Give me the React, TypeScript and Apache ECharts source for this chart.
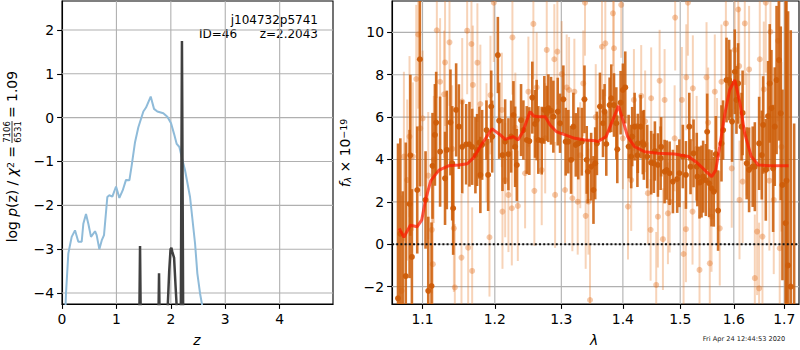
import React, { useEffect, useRef } from "react";
import * as echarts from "echarts";

// ---------- Left panel: log p(z) ----------
const zTicks = [0, 1, 2, 3, 4];
const logpTicks = [-4, -3, -2, -1, 0, 1, 2];
const zBlue = [0.055, 0.074, 0.116, 0.178, 0.239, 0.3, 0.362, 0.392, 0.441, 0.484, 0.533, 0.607, 0.637, 0.686, 0.73, 0.772, 0.833, 0.87, 0.925, 0.993, 1.054, 1.115, 1.176, 1.238, 1.281, 1.342, 1.403, 1.495, 1.544, 1.63, 1.691, 1.752, 1.862, 1.936, 2.004, 2.059, 2.108, 2.157, 2.2, 2.261, 2.353, 2.445, 2.487, 2.537, 2.58];
const logpBlue = [-4.6, -4.0, -3.1, -2.72, -2.57, -2.83, -2.83, -2.42, -2.2, -2.42, -2.72, -2.59, -2.68, -3.0, -2.8, -2.68, -1.81, -1.77, -1.8, -1.57, -1.83, -1.66, -1.42, -1.43, -1.09, -0.56, -0.22, 0.14, 0.23, 0.48, 0.2, 0.14, 0.1, 0.02, -0.13, -0.37, -0.6, -0.67, -0.9, -1.2, -1.81, -2.87, -3.55, -4.01, -4.31];
const zDark = [0, 1.4, 1.418, 1.434, 1.45, 1.47, 1.75, 1.768, 1.783, 1.798, 1.82, 1.9, 1.925, 1.945, 1.97, 1.995, 2.01, 2.025, 2.06, 2.085, 2.105, 2.125, 2.16, 2.178, 2.2043, 2.232, 2.25, 4.98];
const logpDark = [-8, -8, -5, -2.93, -5, -8, -8, -5, -3.55, -5, -8, -8, -5.5, -4.25, -3.5, -3.0, -2.97, -3.05, -3.2, -3.8, -4.25, -5.5, -8, -6, 1.75, -6, -8, -8];

// ---------- Right panel: spectrum ----------
const lamTicks = [1.1, 1.2, 1.3, 1.4, 1.5, 1.6, 1.7];
const fluxTicks = [-2, 0, 2, 4, 6, 8, 10];
// [lambda, flux, error]
const darkPoints: [number, number, number][] = [
  [1.068, -2.55, 7.3], [1.071, 0.5, 4.5], [1.074, -3.5, 6.0], [1.078, -1.5, 6.3], [1.083, 1.9, 3.5],
  [1.084, 4.2, 3.8], [1.086, -0.6, 3.2],
  [1.093, 2.56, 3.0], [1.0965, 8.73, 6.0], [1.104, 2.09, 2.3], [1.1076, -2.2, 3.5], [1.112, -1.97, 3.0],
  [1.1133, 3.7, 2.5], [1.1165, 5.16, 2.4], [1.1182, 5.74, 2.4], [1.1235, 4.37, 2.6], [1.1302, 3.11, 2.2],
  [1.1326, 4.45, 2.8], [1.1376, 5.75, 2.5], [1.14, 3.82, 2.7], [1.1413, 1.7, 2.2],
  [1.1454, 6.34, 2.2], [1.1492, 5.55, 2.0], [1.1538, 4.6, 2.2], [1.1593, 4.72, 1.9], [1.1639, 4.72, 2.0], [1.1677, 4.6, 1.8],
  [1.1723, 4.2, 1.8], [1.1747, 4.45, 1.7], [1.1779, 4.8, 1.7], [1.1793, 3.27, 1.8], [1.1818, 4.69, 1.65],
  [1.188, 5.39, 1.4], [1.1904, 3.27, 1.7], [1.1948, 6.5, 1.7], [1.1962, 5.08, 1.7],
  [1.2044, 8.93, 1.8], [1.2063, 5.83, 1.8], [1.2111, 4.21, 1.7], [1.215, 4.84, 2.0], [1.2198, 4.25, 1.7], [1.2238, 5.08, 1.7],
  [1.2272, 6.1, 1.6], [1.2297, 4.6, 1.9], [1.2322, 3.74, 1.7], [1.2385, 5.86, 1.7], [1.242, 5.39, 1.4], [1.247, 4.92, 1.6], [1.2509, 4.87, 1.6],
  [1.2554, 6.92, 1.7], [1.2595, 5.68, 1.6], [1.262, 5.86, 1.9], [1.2645, 4.92, 1.6], [1.2697, 4.89, 1.6], [1.2737, 6.34, 1.6],
  [1.2774, 6.18, 1.3], [1.2799, 6.42, 1.6], [1.284, 6.3, 1.6], [1.2876, 6.02, 1.7], [1.2944, 6.26, 1.6], [1.298, 5.71, 1.4],
  [1.3032, 6.84, 1.6], [1.3069, 4.84, 1.6], [1.311, 4.84, 1.5],
  [1.3153, 3.98, 1.6], [1.319, 5.55, 1.6], [1.3228, 4.69, 1.5], [1.3268, 4.76, 1.7], [1.3325, 4.84, 1.6], [1.3367, 6.84, 1.6],
  [1.3404, 3.98, 1.6], [1.3422, 3.43, 1.5], [1.3475, 3.66, 1.6], [1.3513, 2.56, 1.6], [1.3541, 3.82, 1.7], [1.3569, 4.76, 1.5], [1.3619, 6.5, 1.6],
  [1.3669, 5.71, 1.6], [1.3695, 6.26, 1.3], [1.3723, 4.73, 1.5], [1.3778, 6.57, 1.3], [1.3806, 6.89, 1.6], [1.3851, 6.57, 1.5],
  [1.389, 5.71, 1.7], [1.3906, 4.48, 1.6],
  [1.3962, 6.68, 1.5], [1.4, 7.28, 1.25], [1.404, 7.4, 1.7], [1.4097, 4.61, 1.5], [1.4141, 4.14, 1.5], [1.4158, 5.08, 1.4], [1.4199, 5.55, 1.6],
  [1.4247, 4.2, 1.5], [1.4254, 4.76, 1.4], [1.4302, 5.55, 1.5], [1.434, 4.8, 1.5], [1.4358, 4.69, 1.65], [1.4416, 4.14, 1.5], [1.4485, 3.85, 1.5],
  [1.4532, 3.82, 1.4], [1.455, 4.4, 1.4], [1.4603, 3.74, 1.5], [1.4651, 4.06, 1.5], [1.466, 4.6, 1.4], [1.4721, 3.43, 1.5],
  [1.4758, 3.5, 1.4], [1.481, 3.35, 1.5],
  [1.4869, 2.96, 1.5], [1.4946, 3.08, 1.6], [1.4985, 3.35, 1.6], [1.5048, 4.14, 1.5], [1.5104, 3.27, 1.6], [1.5165, 5.55, 1.6],
  [1.5188, 3.66, 1.3], [1.5243, 4.29, 1.6], [1.5302, 3.66, 1.6], [1.5313, 3.19, 1.4], [1.5353, 2.91, 1.7], [1.539, 2.96, 1.7],
  [1.542, 3.19, 1.7], [1.547, 3.03, 1.7],
  [1.5495, 5.31, 1.8], [1.5532, 2.88, 1.6], [1.5576, 2.64, 1.8], [1.5619, 2.48, 1.65], [1.5657, 4.25, 1.8], [1.57, 1.59, 1.9], [1.5764, 4.76, 1.8],
  [1.5795, 5.39, 1.4], [1.586, 7.75, 2.0], [1.591, 7.75, 1.9], [1.5935, 7.59, 1.6], [1.5966, 5.79, 1.9], [1.6019, 8.14, 2.0],
  [1.6051, 6.81, 1.6], [1.6083, 7.59, 1.9], [1.615, 5.55, 1.6],
  [1.617, 6.2, 2.0], [1.625, 3.82, 1.7], [1.6297, 3.51, 2.0], [1.6368, 3.66, 1.9], [1.641, 3.66, 2.1], [1.6495, 4.76, 2.2],
  [1.6548, 4.21, 2.1], [1.6575, 5.63, 2.3],
  [1.6628, 3.51, 2.4], [1.6674, 6.05, 2.6], [1.6707, 7.59, 2.8], [1.6741, 6.42, 2.75], [1.6775, 3.58, 3.0], [1.6808, 5.55, 2.8],
  [1.6845, 7.75, 3.5], [1.6895, 8.69, 3.8], [1.693, 6.18, 4.1], [1.6965, 2.8, 4.5], [1.703, 1.0, 12], [1.7047, 3.0, 14],
  [1.708, -1.0, 12], [1.7135, -2.0, 12.1], [1.7205, -4.3, 10],
];
const lightPoints: [number, number, number][] = [
  [1.0726, -2.2, 4.5], [1.0756, 4.14, 4.0], [1.0799, 3.03, 3.8], [1.0829, 5.08, 3.8], [1.0873, 4.14, 3.5],
  [1.0917, 7.8, 3.5], [1.0943, 9.9, 3.5], [1.097, 5.47, 3.2], [1.1001, 5.94, 3.2], [1.1076, 3.24, 3.0],
  [1.1124, 0.68, 3.0], [1.1137, -0.94, 3.0], [1.115, 4.0, 3.0], [1.1191, 10.1, 3.2], [1.1235, 7.67, 3.0],
  [1.1289, 7.08, 3.0], [1.1302, 8.58, 3.0], [1.1363, 9.53, 3.0], [1.14, 4.5, 3.0], [1.1423, 0.75, 3.0],
  [1.1436, -2.04, 3.0], [1.1528, -0.63, 3.0], [1.1538, 6.73, 3.0], [1.1607, 10.08, 3.0], [1.1621, -0.16, 3.0],
  [1.1667, 9.45, 3.0], [1.1677, -1.26, 3.0], [1.1687, 7.52, 2.8], [1.1751, 8.57, 2.8], [1.1793, 6.62, 2.8],
  [1.188, 4.8, 2.8], [1.1923, 0.33, 2.8], [1.1937, 7.04, 2.8], [1.1985, 11.4, 2.8], [1.2102, 6.34, 2.7],
  [1.2111, 1.54, 2.7], [1.215, 3.03, 2.7], [1.2198, 2.33, 2.7], [1.2248, 1.7, 2.7], [1.2257, 9.76, 2.7],
  [1.23, 5.5, 2.6], [1.2337, 1.81, 2.6], [1.2445, 3.35, 2.6], [1.2495, 7.2, 2.6], [1.257, 10.4, 2.6],
  [1.2585, 2.52, 2.6], [1.262, 7.4, 2.6], [1.2697, 3.5, 2.6], [1.275, 5.0, 2.6], [1.2774, 9.17, 2.6],
  [1.2891, 8.73, 2.6], [1.2903, 2.33, 2.5], [1.2938, 9.09, 2.5], [1.3006, 8.03, 2.5], [1.3058, 2.56, 2.5],
  [1.3084, 7.4, 2.5], [1.3122, 7.28, 2.5], [1.3174, 2.17, 2.5], [1.3206, 7.2, 2.5], [1.3259, 2.01, 2.5],
  [1.33, 4.2, 2.5], [1.3348, 7.59, 2.5], [1.3376, 11.4, 2.5], [1.3387, 1.34, 2.5], [1.3431, 2.01, 2.5],
  [1.3457, -2.63, 2.6], [1.355, 6.0, 2.5], [1.3652, 9.32, 2.5], [1.3707, 9.48, 2.5], [1.3834, 10.9, 2.5],
  [1.3851, 9.25, 2.5], [1.3972, 11.3, 2.5], [1.4, 5.0, 2.4], [1.4086, 1.78, 2.5], [1.4141, 3.03, 2.4],
  [1.4187, 6.81, 2.4], [1.4312, 7.0, 2.4], [1.438, 5.8, 2.4], [1.4428, 2.41, 2.4], [1.4475, 0.68, 2.4],
  [1.4485, 6.89, 2.4], [1.4573, -1.92, 2.5], [1.4603, 1.3, 2.4], [1.4633, 7.72, 2.4], [1.4691, 0.24, 2.4],
  [1.4721, 6.81, 2.4], [1.478, 1.46, 2.4], [1.481, 2.01, 2.4], [1.49, 5.0, 2.5], [1.4909, 10.7, 2.5],
  [1.503, 6.81, 2.5], [1.5061, -0.46, 2.5], [1.5104, 0.71, 2.5], [1.511, 7.88, 2.5], [1.514, 11.4, 2.5],
  [1.5224, 1.54, 2.5], [1.523, 7.36, 2.5], [1.53, 4.5, 2.5], [1.5353, -1.21, 2.6], [1.5483, 7.88, 2.6],
  [1.5513, 5.74, 2.6], [1.5544, -0.9, 2.6], [1.5576, 1.3, 2.6], [1.5638, 7.2, 2.7], [1.568, 4.2, 2.7],
  [1.5732, 0.75, 2.7], [1.5764, 7.67, 2.7], [1.5848, 10.42, 2.8], [1.596, 3.58, 2.8], [1.6019, 9.17, 2.8],
  [1.6085, 11.08, 2.8], [1.6104, 8.41, 2.8], [1.611, 2.09, 2.8], [1.617, 2.96, 2.9], [1.6213, 10.42, 2.9],
  [1.625, 5.2, 2.9], [1.6297, 8.25, 3.0], [1.641, -1.6, 3.0], [1.6455, 0.6, 3.0], [1.6495, -2.08, 3.1],
  [1.6508, 8.73, 3.1], [1.6561, 0.36, 3.2], [1.6588, 7.31, 3.2], [1.6628, 11.4, 3.3], [1.67, 3.0, 3.3],
  [1.6721, 10.03, 3.4], [1.6788, 2.09, 3.5], [1.6875, 9.6, 3.8], [1.6909, -0.19, 3.8], [1.6944, 4.6, 4.0],
];
const modelLam = [1.0696, 1.0756, 1.084, 1.093, 1.099, 1.104, 1.111, 1.122, 1.135, 1.149, 1.161, 1.17, 1.182, 1.196, 1.2, 1.208, 1.215, 1.227, 1.234, 1.241, 1.252, 1.2575, 1.2645, 1.275, 1.2825, 1.293, 1.306, 1.321, 1.338, 1.354, 1.358, 1.372, 1.383, 1.3927, 1.4, 1.408, 1.42, 1.437, 1.46, 1.49, 1.515, 1.532, 1.548, 1.558, 1.5657, 1.573, 1.583, 1.592, 1.602, 1.612, 1.621, 1.634, 1.648, 1.67, 1.709];
const modelFlux = [0.75, 0.33, 0.9, 0.83, 1.15, 2.1, 3.0, 3.5, 3.7, 3.74, 3.8, 4.1, 4.76, 5.45, 5.35, 5.16, 4.95, 5.08, 4.92, 5.3, 6.26, 6.05, 6.02, 6.02, 5.63, 5.3, 5.16, 5.0, 4.92, 4.89, 4.84, 5.08, 5.86, 6.53, 5.86, 5.08, 4.6, 4.37, 4.29, 4.26, 4.14, 3.82, 3.43, 3.19, 3.5, 4.6, 6.18, 7.28, 7.75, 6.65, 5.24, 4.14, 3.74, 3.71, 3.71];

const FONT = "DejaVu Sans";
const Z_MAX = 4.98;
const LOGP_MIN = -4.25;
const LOGP_MAX = 2.66;
const LAM_MIN = 1.0603;
const LAM_MAX = 1.7306;
const FLUX_MIN = -2.82;
const FLUX_MAX = 11.48;
const GRID_COLOR = "#b0b0b0";

const minus = (v: number) => (v < 0 ? "\u2212" + Math.abs(v) : String(v));

function axisCommon(ticks: number[], formatter: (v: number) => string) {
  return {
    axisLine: { show: true, onZero: false, lineStyle: { color: "#000", width: 1.1 } },
    axisTick: { show: true, length: 4.9, inside: false, customValues: ticks, lineStyle: { color: "#000", width: 1.1 } },
    axisLabel: { customValues: ticks, color: "#000", fontSize: 13.9, fontFamily: FONT, margin: 8, formatter },
    splitLine: { show: false },
  };
}

// grid lines: one line series per grid line, through the axes' own scales
function gridLines(idx: number, xs: number[], ys: number[], x0: number, x1: number, y0: number, y1: number) {
  const segs: number[][][] = [
    ...xs.map((v) => [[v, y0], [v, y1]]),
    ...ys.map((v) => [[x0, v], [x1, v]]),
  ];
  return segs.map((seg) => ({
    type: "line", xAxisIndex: idx, yAxisIndex: idx, data: seg, showSymbol: false, symbol: "none",
    z: 2, lineStyle: { color: GRID_COLOR, width: 1.1 }, emphasis: { disabled: true },
  }));
}

function errRender(barColor: string, markColor: string, lw: number, r: number) {
  return (params: any, api: any) => {
    const x = api.value(0);
    const y = api.value(1);
    const e = api.value(2);
    const top = api.coord([x, y + e]);
    const bot = api.coord([x, y - e]);
    const c = api.coord([x, y]);
    return {
      type: "group",
      children: [
        { type: "line", shape: { x1: top[0], y1: top[1], x2: bot[0], y2: bot[1] }, style: { stroke: barColor, lineWidth: lw } },
        { type: "circle", shape: { cx: c[0], cy: c[1], r }, style: { fill: markColor } },
      ],
    };
  };
}

const txt = (x: number, y: number, text: string, size: number, align: string, extra: any = {}) => ({
  type: "text", x, y,
  style: { text, fontFamily: FONT, fontSize: size, fill: "#000", align, verticalAlign: "middle", textAlign: align, textVerticalAlign: "middle", ...extra },
});

export default function App() {
  const ref = useRef<HTMLDivElement>(null);
  useEffect(() => {
    if (!ref.current) return;
    const chart = echarts.init(ref.current, undefined, { renderer: "svg" });
    const lamTickVals = lamTicks.map((l) => Math.log(l));
    const lnMin = Math.log(LAM_MIN);
    const lnMax = Math.log(LAM_MAX);
    const option: any = {
      animation: false,
      grid: [
        { left: 62, top: 1, width: 271, height: 303, show: true, borderColor: "#000", borderWidth: 1.1, backgroundColor: "transparent" },
        { left: 392, top: 1, width: 407, height: 303, show: true, borderColor: "#000", borderWidth: 1.1, backgroundColor: "transparent" },
      ],
      xAxis: [
        { gridIndex: 0, type: "value", min: 0, max: Z_MAX, ...axisCommon(zTicks, (v) => minus(v)) },
        { gridIndex: 1, type: "value", min: lnMin, max: lnMax, ...axisCommon(lamTickVals, (v) => Math.exp(v).toFixed(1)) },
      ],
      yAxis: [
        { gridIndex: 0, type: "value", min: LOGP_MIN, max: LOGP_MAX, ...axisCommon(logpTicks, (v) => minus(v)) },
        { gridIndex: 1, type: "value", min: FLUX_MIN, max: FLUX_MAX, ...axisCommon(fluxTicks, (v) => minus(v)) },
      ],
      series: [
        ...gridLines(0, zTicks.filter((v) => v > 0), logpTicks, 0, Z_MAX, LOGP_MIN, LOGP_MAX),
        ...gridLines(1, lamTickVals, fluxTicks, lnMin, lnMax, FLUX_MIN, FLUX_MAX),
        {
          type: "line", xAxisIndex: 0, yAxisIndex: 0, showSymbol: false, clip: true,
          data: zBlue.map((z, i) => [z, logpBlue[i]]),
          lineStyle: { color: "#8fbbd9", width: 2 }, z: 3,
        },
        {
          type: "line", xAxisIndex: 0, yAxisIndex: 0, showSymbol: false, clip: true,
          data: zDark.map((z, i) => [z, logpDark[i]]),
          lineStyle: { color: "#404040", width: 2.5 }, z: 4,
        },
        {
          type: "custom", xAxisIndex: 1, yAxisIndex: 1, clip: true,
          renderItem: errRender("rgba(230,120,40,0.33)", "rgba(225,110,30,0.38)", 2, 3),
          encode: { x: 0, y: 1 },
          data: lightPoints.map((p) => [Math.log(p[0]), p[1], p[2]]), z: 3,
        },
        {
          type: "custom", xAxisIndex: 1, yAxisIndex: 1, clip: true,
          renderItem: errRender("rgba(205,95,10,0.88)", "rgba(205,92,8,0.95)", 2.6, 3),
          encode: { x: 0, y: 1 },
          data: darkPoints.map((p) => [Math.log(p[0]), p[1], p[2]]), z: 4,
        },
        {
          type: "line", xAxisIndex: 1, yAxisIndex: 1, showSymbol: false, clip: true,
          data: modelLam.map((l, i) => [Math.log(l), modelFlux[i]]),
          lineStyle: { color: "rgba(255,25,0,0.72)", width: 3 }, z: 5,
        },
        {
          type: "line", xAxisIndex: 1, yAxisIndex: 1, showSymbol: false, clip: true,
          data: [[lnMin, 0], [lnMax, 0]],
          lineStyle: { color: "#111", width: 2, type: [2, 2.2] }, z: 6,
        },
      ],
      graphic: [
        {
          type: "group", x: 12, y: 153, rotation: Math.PI / 2,
          children: [
            {
              type: "text", x: 7, y: 0,
              style: {
                text: "{n|log }{i|p}{n|(z) / }{i|χ}{s|2}{n| =}",
                align: "right", verticalAlign: "middle", textAlign: "right", textVerticalAlign: "middle",
                rich: {
                  n: { fontFamily: FONT, fontSize: 13.9, fill: "#000" },
                  i: { fontFamily: FONT, fontSize: 13.9, fontStyle: "italic", fill: "#000" },
                  s: { fontFamily: FONT, fontSize: 9.5, fill: "#000", verticalAlign: "top" },
                },
              },
            },
            txt(21, -5.5, "7106", 8.5, "center"),
            { type: "line", shape: { x1: 10, y1: 0, x2: 32, y2: 0 }, style: { stroke: "#000", lineWidth: 0.8 } },
            txt(21, 5.5, "6531", 8.5, "center"),
            txt(35, 0, "= 1.09", 13.9, "left"),
          ],
        },
        {
          type: "text", x: 345, y: 153, rotation: Math.PI / 2,
          style: {
            text: "{i|f}{b|λ}{n| × 10}{p|−19}",
            align: "center", verticalAlign: "middle", textAlign: "center", textVerticalAlign: "middle",
            rich: {
              i: { fontFamily: FONT, fontSize: 13.9, fontStyle: "italic", fill: "#000" },
              b: { fontFamily: FONT, fontSize: 9.5, fontStyle: "italic", fill: "#000", verticalAlign: "bottom" },
              n: { fontFamily: FONT, fontSize: 13.9, fill: "#000" },
              p: { fontFamily: FONT, fontSize: 9.5, fill: "#000", verticalAlign: "top" },
            },
          },
        },
        txt(197, 340, "z", 13.9, "center", { fontStyle: "italic" }),
        txt(594, 340, "λ", 13.9, "center", { fontStyle: "italic" }),
        txt(318, 20, "j104732p5741", 12, "right"),
        txt(199, 34, "ID=46", 12, "left"),
        txt(318, 34, "z=2.2043", 12, "right"),
        txt(744, 339, "Fri Apr 24 12:44:53 2020", 6.6, "center", { fill: "#222" }),
      ],
    };
    chart.setOption(option);
    return () => chart.dispose();
  }, []);
  return <div ref={ref} style={{ position: "fixed", left: 0, top: 0, width: 800, height: 350, background: "#fff" }} />;
}
